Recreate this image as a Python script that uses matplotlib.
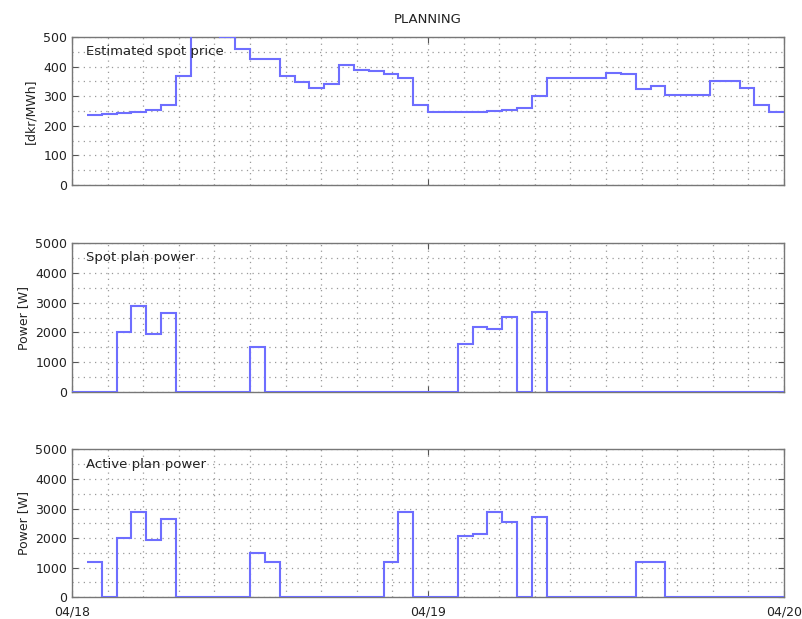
import numpy as np
import matplotlib.pyplot as plt
from matplotlib.ticker import MultipleLocator

# hourly values, hour 0 = 04/18 00:00
price_start = 1
price = [238, 240, 243, 246, 252, 272, 367, 560, 540, 500,
         460, 427, 427, 368, 347, 327, 342, 404, 389, 384,
         376, 361, 271, 248, 246, 246, 248, 250, 252, 261,
         300, 361, 361, 361, 361, 378, 376, 325, 333, 305,
         305, 305, 350, 353, 327, 271, 248]

spot_start = 0
spot_power = [0, 0, 0, 2000, 2870, 1950, 2650, 0, 0, 0,
              0, 0, 1500, 0, 0, 0, 0, 0, 0, 0,
              0, 0, 0, 0, 0, 0, 1600, 2180, 2100, 2520,
              0, 2700, 0, 0, 0, 0, 0, 0, 0, 0,
              0, 0, 0, 0, 0, 0, 0, 0]

active_start = 1
active_power = [1200, 0, 2000, 2870, 1930, 2630, 0, 0, 0, 0,
                0, 1500, 1190, 0, 0, 0, 0, 0, 0, 0,
                1200, 2870, 0, 0, 0, 2060, 2150, 2870, 2530, 0,
                2710, 0, 0, 0, 0, 0, 0, 1190, 1190, 0,
                0, 0, 0, 0, 0, 0, 0]

day_labels = ['04/18', '04/19', '04/20']

line_col = '#6e6eff'
plt.rcParams['font.size'] = 9

fig = plt.figure(figsize=(8.03, 6.19), dpi=100)
left, width = 0.0897, 0.8867
ax1 = fig.add_axes([left, 0.7011, width, 0.2391])
ax2 = fig.add_axes([left, 0.3667, width, 0.2407])
ax3 = fig.add_axes([left, 0.0351, width, 0.2390])

panels = [
    (ax1, price, price_start, 500, 100, 50, '[dkr/MWh]', 'Estimated spot price'),
    (ax2, spot_power, spot_start, 5000, 1000, 500, 'Power [W]', 'Spot plan power'),
    (ax3, active_power, active_start, 5000, 1000, 500, 'Power [W]', 'Active plan power'),
]

for ax, vals, start, ymax, ymaj, ymin, ylab, name in panels:
    edges = np.arange(start, start + len(vals) + 1)
    ax.stairs(vals, edges, baseline=None, color=line_col, lw=1.5, zorder=3)
    ax.set_xlim(0, 48)
    ax.set_ylim(0, ymax)
    ax.xaxis.set_major_locator(MultipleLocator(24))
    ax.xaxis.set_minor_locator(MultipleLocator(2.4))
    ax.yaxis.set_major_locator(MultipleLocator(ymaj))
    ax.yaxis.set_minor_locator(MultipleLocator(ymin))
    ax.grid(which='both', color='#9a9a9a', linestyle=(0, (1, 3.5)), linewidth=0.9)
    ax.tick_params(which='both', direction='in', top=True, right=True)
    ax.tick_params(which='minor', length=0)
    ax.tick_params(which='major', length=4, color='#555555', labelcolor='#222222')
    ax.tick_params(axis='x', pad=6)
    for sp in ax.spines.values():
        sp.set_color('#777777')
        sp.set_linewidth(1.0)
    ax.set_ylabel(ylab, color='#222222', labelpad=4)
    ax.text(0.02, 0.90, name, transform=ax.transAxes, color='#222222',
            fontsize=9.5, va='center', ha='left')
    if ax is ax3:
        ax.set_xticks([0, 24, 48])
        ax.set_xticklabels(day_labels)
    else:
        ax.set_xticklabels([])

ax1.set_title('PLANNING', fontsize=9.5, color='#222222', pad=10)

fig.savefig('out.png', dpi=100)
